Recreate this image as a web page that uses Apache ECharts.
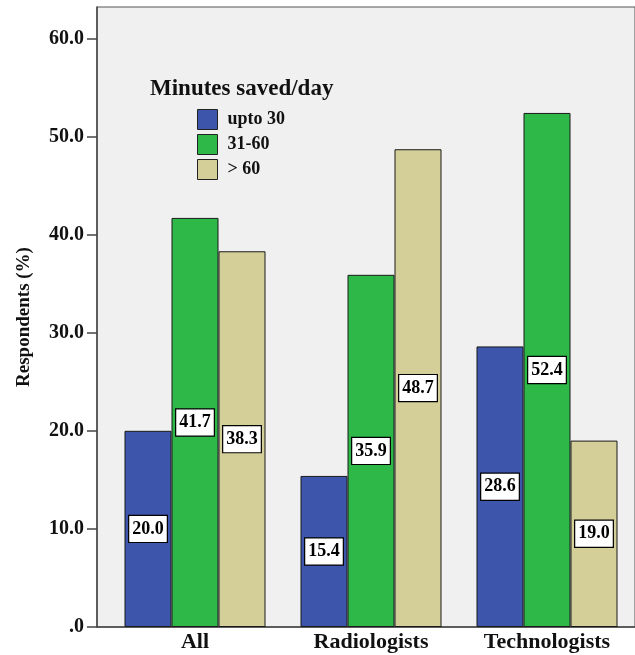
<!DOCTYPE html>
<html>
<head>
<meta charset="utf-8">
<script src="https://cdn.jsdelivr.net/npm/echarts@6/dist/echarts.min.js"></script>
<style>
html,body{margin:0;padding:0;background:#fff;}
#c{width:635px;height:655px;}
</style>
</head>
<body>
<div id="c"></div>
<script>
const categories = ['All', 'Radiologists', 'Technologists'];
const seriesNames = ['upto 30', '31-60', '> 60'];
const upto30 = [20.0, 15.4, 28.6];
const m31to60 = [41.7, 35.9, 52.4];
const over60 = [38.3, 48.7, 19.0];
const yTicks = [0, 10, 20, 30, 40, 50, 60];
const legendTitle = 'Minutes saved/day';
const yName = 'Respondents (%)';

const colors = ['#3d55aa', '#2db848', '#d4cf98'];
const serif = '"Liberation Serif", "DejaVu Serif", serif';
const values = [upto30, m31to60, over60];

const chart = echarts.init(document.getElementById('c'), null, {renderer: 'canvas'});

const series = seriesNames.map((n, i) => ({
  name: n,
  type: 'bar',
  xAxisIndex: 1,
  yAxisIndex: 1,
  data: values[i],
  barWidth: 47,
  barGap: '0%',
  itemStyle: {color: colors[i], borderColor: '#1a1a1a', borderWidth: 1},
  label: {
    show: true,
    position: 'inside',
    formatter: p => p.value.toFixed(1),
    backgroundColor: '#fff',
    borderColor: '#000',
    borderWidth: 1.2,
    padding: [5, 3, 3, 3],
    color: '#000',
    fontFamily: serif,
    fontWeight: 'bold',
    fontSize: 18
  },
  emphasis: {disabled: true}
}));

chart.setOption({
  animation: false,
  backgroundColor: '#fff',
  title: {
    text: legendTitle,
    left: 150,
    top: 78,
    padding: 0,
    textStyle: {fontFamily: serif, fontWeight: 'bold', fontSize: 23, color: '#111'}
  },
  legend: {
    orient: 'vertical',
    left: 197,
    top: 109,
    padding: 0,
    itemWidth: 20,
    itemHeight: 20,
    itemGap: 4,
    icon: 'rect',
    data: seriesNames,
    itemStyle: {borderColor: '#222', borderWidth: 1},
    textStyle: {fontFamily: serif, fontWeight: 'bold', fontSize: 18, color: '#111', padding: [2, 0, 0, 5]}
  },
  grid: [
    {left: 97, top: 7, width: 540, bottom: 28, show: true, backgroundColor: '#f0f0f0', borderColor: '#555', borderWidth: 1},
    {left: 107, top: 7, width: 530, bottom: 28}
  ],
  xAxis: [
    {gridIndex: 0, type: 'value', min: 0, max: 1, axisLine: {show: true, onZero: false, lineStyle: {color: '#444', width: 1.5}}, axisTick: {show: false}, axisLabel: {show: false}, splitLine: {show: false}},
    {gridIndex: 1, type: 'category', data: categories, axisLine: {show: false}, axisTick: {show: false},
     axisLabel: {margin: 4, fontFamily: serif, fontWeight: 'bold', fontSize: 22, color: '#111'}}
  ],
  yAxis: [
    {gridIndex: 0, type: 'value', min: 0, max: 63.2, interval: 10,
     name: yName, nameLocation: 'middle', nameGap: 63,
     nameTextStyle: {fontFamily: serif, fontWeight: 'bold', fontSize: 19, color: '#111'},
     axisLine: {show: true, onZero: false, lineStyle: {color: '#444', width: 1.5}},
     axisTick: {show: true, length: 10, customValues: yTicks, lineStyle: {color: '#444', width: 1.5}},
     axisLabel: {customValues: yTicks, margin: 13, fontFamily: serif, fontWeight: 'bold', fontSize: 20, color: '#111',
       formatter: v => v === 0 ? '.0' : v.toFixed(1)},
     splitLine: {show: false}},
    {gridIndex: 1, type: 'value', min: 0, max: 63.2, show: false, splitLine: {show: false}}
  ],
  series: series
});
</script>
</body>
</html>
